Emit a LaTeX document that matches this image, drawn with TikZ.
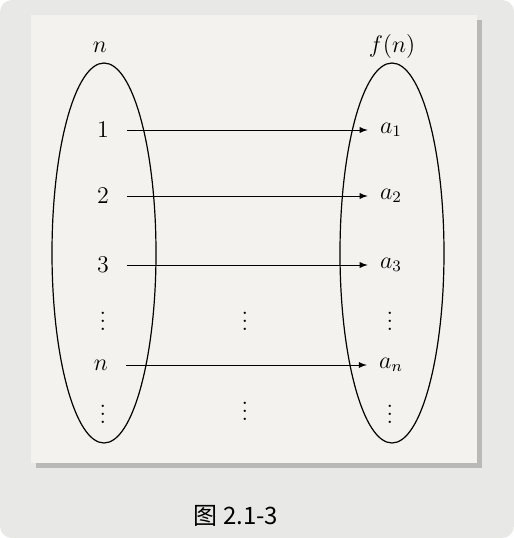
\documentclass[tikz,border=0pt]{standalone}
\usepackage{fontspec}
\newfontfamily\cjk{Noto Sans CJK SC}
\usetikzlibrary{shadows}
\definecolor{pagegray}{RGB}{232,232,230}
\definecolor{panelgray}{RGB}{243,242,239}
\begin{document}
\begin{tikzpicture}[x=0.5pt,y=-0.5pt,
  lab/.style={font=\large,inner sep=1pt},
  maparrow/.style={->,>=latex,thin,shorten <=8pt,shorten >=5pt}]
\useasboundingbox (0,0) rectangle (514,538);
\fill[white] (0,0) rectangle (514,538);
\fill[pagegray,rounded corners=6pt] (0,0) rectangle (514,538);
\fill[panelgray,drop shadow={shadow xshift=2.5pt,shadow yshift=-2.5pt,opacity=0.45}] (31,15) rectangle (477,463);

\draw[semithick] (104,253) ellipse [x radius=26pt, y radius=95pt];
\draw[semithick] (392,253) ellipse [x radius=26pt, y radius=95pt];

\node[lab] (setn) at (100,47) {$n$};
\node[lab] (setf) at (392,46) {$f(n)$};

\node[lab] (l1) at (103,130) {1};
\node[lab] (l2) at (103,196) {2};
\node[lab] (l3) at (103,265) {3};
\node[lab] (ld1) at (103,315) {$\vdots$};
\node[lab] (ln) at (101,365) {$n$};
\node[lab] (ld2) at (103,408) {$\vdots$};

\node[lab] (r1) at (391,130) {$a_1$};
\node[lab] (r2) at (391,196) {$a_2$};
\node[lab] (r3) at (391,265) {$a_3$};
\node[lab] (rd1) at (390,315) {$\vdots$};
\node[lab] (rn) at (391,365) {$a_n$};
\node[lab] (rd2) at (390,408) {$\vdots$};

\node[lab] (md1) at (245,315) {$\vdots$};
\node[lab] (md2) at (245,405) {$\vdots$};

\draw[maparrow] (l1) -- (r1);
\draw[maparrow] (l2) -- (r2);
\draw[maparrow] (l3) -- (r3);
\draw[maparrow] (ln) -- (rn);

\node[font=\cjk\large] (cap) at (236,516) {图 2.1-3};
\end{tikzpicture}
\end{document}
